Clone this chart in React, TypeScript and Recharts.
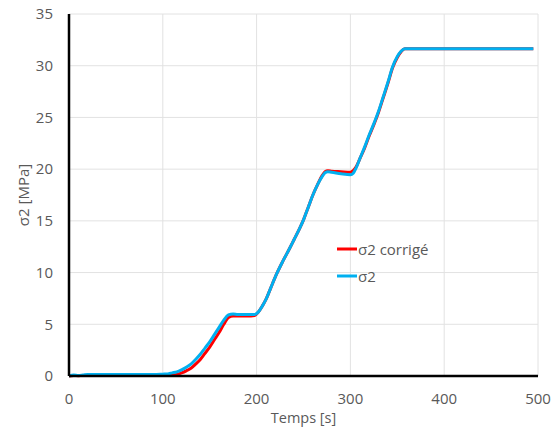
import React from 'react';
import { LineChart, Line, XAxis, YAxis, CartesianGrid, Legend, Label } from 'recharts';

const FONT = '"Open Sans", "DejaVu Sans", sans-serif';
const TICK_COLOR = '#595959';

// Time [s]
const times = [
  0, 5, 10, 15, 20, 30, 50, 70, 90, 100, 105, 110, 115, 120, 125, 130, 135, 140, 145, 150,
  155, 160, 165, 170, 175, 180, 190, 198, 202, 206, 210, 215, 221, 228, 235, 240, 245, 250,
  255, 260, 265, 270, 273, 276, 280, 290, 300, 303, 306, 310, 315, 320, 325, 330, 335, 340,
  345, 350, 354, 358, 370, 400, 450, 495,
];

// σ2 [MPa]
const sigma2 = [
  0.0, 0.1, 0.05, 0.1, 0.15, 0.15, 0.15, 0.15, 0.15, 0.18, 0.2, 0.3, 0.4, 0.6, 0.85, 1.15, 1.6, 2.1, 2.7, 3.3,
  4.0, 4.7, 5.4, 5.9, 6.0, 5.95, 5.95, 5.95, 6.2, 6.75, 7.4, 8.5, 9.8, 11.1, 12.3, 13.2, 14.1, 15.1,
  16.3, 17.5, 18.5, 19.3, 19.65, 19.75, 19.7, 19.55, 19.45, 19.6, 20.1, 21.0, 22.1, 23.3, 24.4, 25.6, 27.0, 28.4,
  29.9, 30.9, 31.4, 31.65, 31.65, 31.65, 31.65, 31.65,
];

// σ2 corrigé [MPa]
const sigma2Corrige = [
  0.0, 0.05, 0.03, 0.05, 0.05, 0.05, 0.05, 0.05, 0.05, 0.05, 0.05, 0.08, 0.15, 0.3, 0.5, 0.75, 1.15, 1.6, 2.2, 2.8,
  3.5, 4.2, 5.0, 5.65, 5.8, 5.8, 5.8, 5.85, 6.2, 6.75, 7.4, 8.5, 9.8, 11.1, 12.3, 13.2, 14.1, 15.1,
  16.3, 17.5, 18.5, 19.4, 19.75, 19.85, 19.8, 19.75, 19.7, 19.85, 20.2, 21.0, 22.0, 23.2, 24.3, 25.5, 26.9, 28.3,
  29.8, 30.8, 31.35, 31.65, 31.65, 31.65, 31.65, 31.65,
];

const xTicks = [0, 100, 200, 300, 400, 500];
const yTicks = [0, 5, 10, 15, 20, 25, 30, 35];
const legendOrder = ['s2c', 's2'];

const data = times.map((t, i) => ({ t, s2c: sigma2Corrige[i], s2: sigma2[i] }));

const renderXLabel = (props: any) => {
  const vb = props.viewBox || {};
  return (
    <text x={vb.x + vb.width / 2} y={vb.y + 47} textAnchor="middle" fill={TICK_COLOR} fontSize={14.5} fontFamily={FONT}>
      Temps [s]
    </text>
  );
};

const renderYLabel = (props: any) => {
  const vb = props.viewBox || {};
  const cx = vb.x + 28.5;
  const cy = vb.y + vb.height / 2;
  return (
    <text x={cx} y={cy} textAnchor="middle" fill={TICK_COLOR} fontSize={15} fontFamily={FONT} transform={`rotate(-90, ${cx}, ${cy})`}>
      σ2 [MPa]
    </text>
  );
};

const renderLegend = (props: any) => {
  const payload = [...(props.payload || [])].sort(
    (a: any, b: any) => legendOrder.indexOf(a.dataKey) - legendOrder.indexOf(b.dataKey)
  );
  return (
    <div>
      {payload.map((entry: any) => (
        <div key={entry.value} style={{ display: 'flex', alignItems: 'center', height: 27 }}>
          <svg width={20} height={4} style={{ display: 'block' }}>
            <line x1={0} y1={2} x2={20} y2={2} stroke={entry.color} strokeWidth={3} />
          </svg>
          <span style={{ color: TICK_COLOR, fontSize: 15, fontFamily: FONT, marginLeft: 1, lineHeight: '27px' }}>
            {entry.value}
          </span>
        </div>
      ))}
    </div>
  );
};

export default function App() {
  return (
    <div style={{ position: 'absolute', left: 0, top: 0, width: 558, height: 437, background: '#fff' }}>
      <LineChart width={558} height={437} data={data} margin={{ top: 14, right: 20, bottom: 0, left: 0 }}>
        <CartesianGrid stroke="#e2e2e2" strokeWidth={1} />
        <XAxis
          dataKey="t"
          type="number"
          domain={[0, 500]}
          ticks={xTicks}
          height={61}
          tickSize={0}
          tickMargin={17}
          tickLine={false}
          axisLine={{ stroke: '#000', strokeWidth: 2.5 }}
          tick={{ fill: TICK_COLOR, fontSize: 15, fontFamily: FONT }}
        >
          <Label content={renderXLabel} />
        </XAxis>
        <YAxis
          type="number"
          domain={[0, 35]}
          ticks={yTicks}
          width={69}
          tickSize={0}
          tickMargin={16}
          tickLine={false}
          axisLine={{ stroke: '#000', strokeWidth: 2.5 }}
          tick={{ fill: TICK_COLOR, fontSize: 15, fontFamily: FONT }}
        >
          <Label content={renderYLabel} />
        </YAxis>
        <Legend
          layout="vertical"
          verticalAlign="middle"
          align="center"
          content={renderLegend}
          wrapperStyle={{ left: 337, top: 235.5, width: 'auto', height: 'auto' }}
        />
        <Line type="monotone" dataKey="s2c" name="σ2 corrigé" stroke="#ff0000" strokeWidth={3} dot={false} isAnimationActive={false} />
        <Line type="monotone" dataKey="s2" name="σ2" stroke="#00b0f0" strokeWidth={3} dot={false} isAnimationActive={false} />
      </LineChart>
    </div>
  );
}
